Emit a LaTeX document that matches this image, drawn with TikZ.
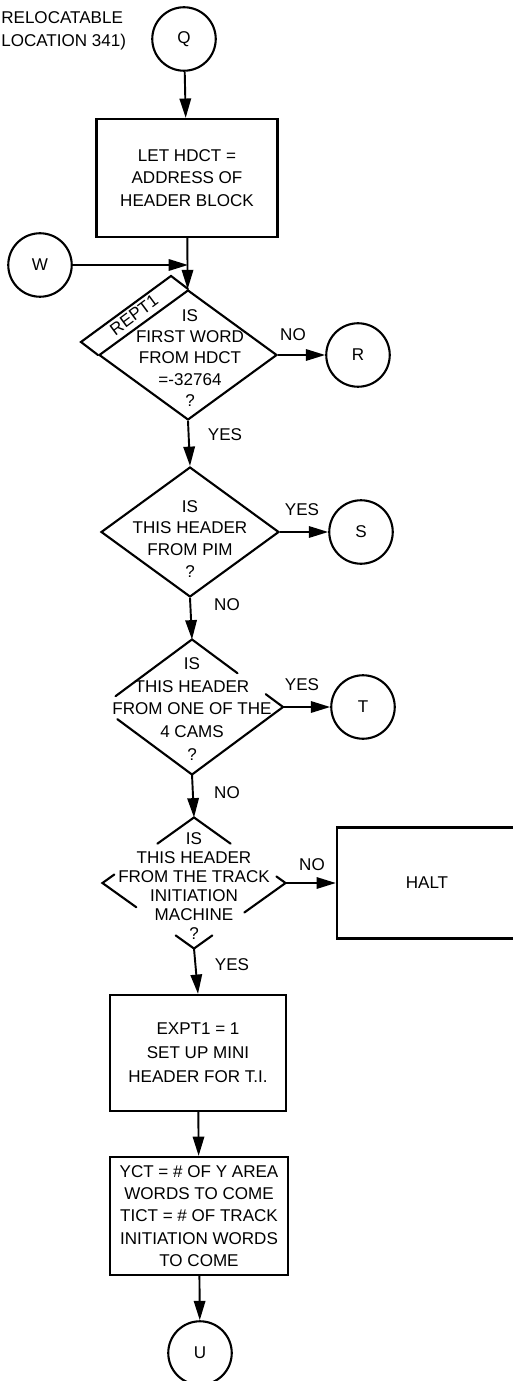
\documentclass[tikz,border=0pt]{standalone}
\usepackage{fontspec}
\setmainfont{Liberation Sans}
\usetikzlibrary{calc,arrows.meta,shapes.geometric}

\tikzset{
  lbl/.style={font=\fontsize{9.7}{#1}\selectfont, inner sep=0pt, align=center},
  lbl/.default=12.5,
  conn/.style={circle, draw, line width=1.2pt, minimum size=1.27cm, inner sep=0pt, lbl},
  proc/.style={rectangle, draw, line width=1.3pt, inner sep=0pt, lbl},
  decision/.style={diamond, line width=1.2pt, inner sep=0pt, minimum width=3.56cm, minimum height=2.6cm},
  flow/.style={-{Triangle[length=11pt,width=6.5pt]}, line width=1.1pt},
  edge/.style={line width=1.2pt, line cap=round},
}

\begin{document}
\begin{tikzpicture}[x=0.02cm, y=-0.02cm]
  \useasboundingbox (0,0) rectangle (512,1381);
  % entry point
  \node[lbl=13, anchor=north west, align=left] (reloc) at (1,11) {RELOCATABLE\\LOCATION 341)};
  \node[conn] (Q) at (184,39) {Q};
  \node[proc, minimum width=3.62cm, minimum height=2.36cm, lbl=13] (hdct) at (187,178) {LET HDCT =\\ADDRESS OF\\HEADER BLOCK};
  \node[conn] (W) at (40,265) {W};
  % first test, with its REPT1 tab
  \node[decision, draw] (d1) at (188,355) {};
  \node[lbl=12] (d1t) at (190,358) {IS\\FIRST WORD\\FROM HDCT\\=-32764\\?};
  \draw[edge] (d1.north) -- ++(-17,-13) -- ($(d1.west)+(-17,-13)$) -- (d1.west);
  \node[lbl, rotate=36.5] (rept) at ($(d1.north)!0.5!(d1.west)+(-9,-7)$) {REPT1};
  \node[conn] (R) at (358,355) {R};
  \node[decision, draw] (d2) at (190,532) {};
  \node[lbl=12.5] (d2t) at (190,539) {IS\\THIS HEADER\\FROM PIM\\?};
  \node[conn] (S) at (361,532) {S};
  % broken outlines where the text runs over
  \node[decision, minimum width=3.6cm, minimum height=2.66cm] (d3) at (192,707) {};
  \node[lbl=13] (d3t) at (192,709) {IS\\THIS HEADER\\FROM ONE OF THE\\4 CAMS\\?};
  \draw[edge] ($(d3.north)!0.84!(d3.west)$) -- (d3.north) -- ($(d3.north)!0.5!(d3.east)$);
  \draw[edge] ($(d3.east)!0.19!(d3.north)$) -- (d3.east) -- (d3.south) -- ($(d3.south)!0.82!(d3.west)$);
  \node[conn] (T) at (363,707) {T};
  \node[decision, minimum width=3.62cm, minimum height=2.58cm] (d4) at (194,883) {};
  \node[lbl=10.8] (d4t) at (194,886) {IS\\THIS HEADER\\FROM THE TRACK\\INITIATION\\MACHINE\\?};
  \draw[edge] ($(d4.north)!0.4!(d4.west)$) -- (d4.north) -- ($(d4.north)!0.4!(d4.east)$);
  \draw[edge] ($(d4.west)!0.13!(d4.north)$) -- (d4.west) -- ($(d4.west)!0.37!(d4.south)$);
  \draw[edge] ($(d4.east)!0.1!(d4.north)$) -- (d4.east) -- ($(d4.east)!0.45!(d4.south)$);
  \draw[edge] ($(d4.south)!0.2!(d4.west)$) -- (d4.south) -- ($(d4.south)!0.2!(d4.east)$);
  \node[proc, minimum width=3.6cm, minimum height=2.22cm] (halt) at (427,883) {HALT};
  \node[proc, minimum width=3.52cm, minimum height=2.32cm, lbl=13.6] (ti) at (198,1053) {EXPT1 = 1\\SET UP MINI\\HEADER FOR T.I.};
  \node[proc, minimum width=3.56cm, minimum height=2.36cm, lbl=12.75] (cnt) at (199,1216) {YCT = \# OF Y AREA\\WORDS TO COME\\TICT = \# OF TRACK\\INITIATION WORDS\\TO COME};
  \node[conn] (U) at (200,1353) {U};
  % connectors
  \coordinate (wj) at (W -| d1.north);
  \draw[flow] (Q) -- (hdct);
  \draw[flow] (hdct) -- (d1);
  \draw[flow] (W) -- (wj);
  \draw[flow] (d1.east) -- (R);
  \draw[flow] (d1.south) -- (d2.north);
  \draw[flow] (d2.east) -- (S);
  \draw[flow] (d2.south) -- (d3.north);
  \draw[flow] (d3.east) -- (T);
  \draw[flow] (d3.south) -- (d4.north);
  \draw[flow] (d4.east) -- (halt.west);
  \draw[flow] (d4.south) -- (ti.north);
  \draw[flow] (ti) -- (cnt);
  \draw[flow] (cnt) -- (U);
  % branch labels
  \node[lbl] (no1) at (293,335) {NO};
  \node[lbl] (yes1) at (225,435) {YES};
  \node[lbl] (yes2) at (302,510) {YES};
  \node[lbl] (no2) at (227,605) {NO};
  \node[lbl] (yes3) at (302,685) {YES};
  \node[lbl] (no3) at (227,793) {NO};
  \node[lbl] (no4) at (312,865) {NO};
  \node[lbl] (yes4) at (232,965) {YES};
\end{tikzpicture}
\end{document}
